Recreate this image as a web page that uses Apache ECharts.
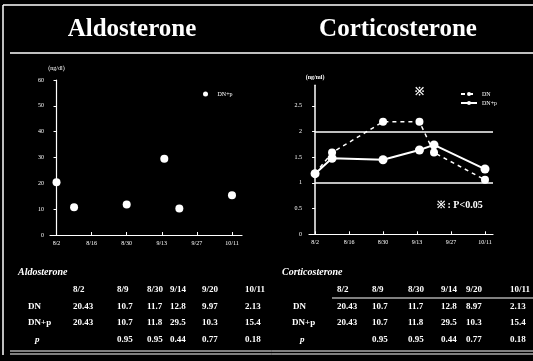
<!DOCTYPE html>
<html><head><meta charset="utf-8">
<script src="https://cdn.jsdelivr.net/npm/echarts@6/dist/echarts.min.js"></script>
<style>html,body{margin:0;padding:0;background:#000}#c{width:533px;height:361px}</style>
</head><body><div id="c"></div>
<script>
// ---- data ----
const dateTickLabels = ['8/2', '8/16', '8/30', '9/13', '9/27', '10/11'];
const dateTickDays = [0, 14, 28, 42, 56, 70];
const sampleDays = [0, 7, 28, 43, 49, 70];           // 8/2, 8/9, 8/30, 9/14, 9/20, 10/11
const aldoDNp = [20.43, 10.7, 11.8, 29.5, 10.3, 15.4];
const aldoTicks = [0, 10, 20, 30, 40, 50, 60];
const corticoDN = [1.18, 1.59, 2.19, 2.19, 1.59, 1.06];
const corticoDNp = [1.18, 1.48, 1.45, 1.64, 1.74, 1.27];
const corticoTicks = [0, 0.5, 1, 1.5, 2, 2.5];
const corticoRefLines = [1, 2];
const signifDay = 43;
const tableDates = ['8/2', '8/9', '8/30', '9/14', '9/20', '10/11'];
const aldoTableDN = ['20.43', '10.7', '11.7', '12.8', '9.97', '2.13'];
const aldoTableDNp = ['20.43', '10.7', '11.8', '29.5', '10.3', '15.4'];
const aldoTableP = ['', '0.95', '0.95', '0.44', '0.77', '0.18'];
const cortTableDN = ['20.43', '10.7', '11.7', '12.8', '8.97', '2.13'];
const cortTableDNp = ['20.43', '10.7', '11.8', '29.5', '10.3', '15.4'];
const cortTableP = ['', '0.95', '0.95', '0.44', '0.77', '0.18'];
const rowNames = ['DN', 'DN+p', 'p'];

// ---- chart ----
const W = '#ffffff';
const SERIF = '"Liberation Serif","DejaVu Serif",serif';
const chart = echarts.init(document.getElementById('c'), null, {renderer: 'canvas'});
const dayLabel = v => { const i = dateTickDays.indexOf(v); return i >= 0 ? dateTickLabels[i] : ''; };

function axisX(grid, min, max) {
  return {
    type: 'value', gridIndex: grid, min: min, max: max,
    axisLine: {show: true, lineStyle: {color: W, width: 1.2}},
    axisTick: {show: true, customValues: dateTickDays, length: 3, inside: true, lineStyle: {color: W}},
    axisLabel: {customValues: dateTickDays, formatter: dayLabel, color: W, fontSize: 6, fontFamily: SERIF, margin: 5},
    splitLine: {show: false}
  };
}

function tableTexts(x0, cols, title, dates, rows, opts) {
  const els = [];
  const y = [272, 290, 307, 323, 340];
  els.push({type: 'text', x: x0, y: y[0], style: {text: title, fill: W, font: 'italic bold 10px ' + SERIF, textVerticalAlign: 'middle'}});
  dates.forEach((d, i) => els.push({type: 'text', x: cols[i], y: y[1], style: {text: d, fill: W, font: 'bold 9px ' + SERIF, textVerticalAlign: 'middle'}}));
  rows.forEach((r, ri) => {
    els.push({type: 'text', x: opts.labelX[ri], y: y[2 + ri], style: {text: rowNames[ri], fill: W, font: (ri === 2 ? 'italic ' : '') + 'bold 9px ' + SERIF, textVerticalAlign: 'middle'}});
    r.forEach((v, i) => els.push({type: 'text', x: cols[i], y: y[2 + ri], style: {text: v, fill: W, font: 'bold 9px ' + SERIF, textVerticalAlign: 'middle'}}));
  });
  return els;
}

const graphics = [
  {type: 'line', shape: {x1: 3, y1: 5, x2: 533, y2: 5}, style: {stroke: W, lineWidth: 1.5}},
  {type: 'line', shape: {x1: 3, y1: 5, x2: 3, y2: 355}, style: {stroke: W, lineWidth: 1.5}},
  {type: 'line', shape: {x1: 10, y1: 53, x2: 533, y2: 53}, style: {stroke: W, lineWidth: 1.5}},
  {type: 'line', shape: {x1: 10, y1: 351, x2: 533, y2: 351}, style: {stroke: W, lineWidth: 1}},
  {type: 'line', shape: {x1: 10, y1: 354, x2: 533, y2: 354}, style: {stroke: W, lineWidth: 1}},
  {type: 'line', shape: {x1: 332, y1: 298, x2: 533, y2: 298}, style: {stroke: W, lineWidth: 1.2}},
  {type: 'text', x: 132, y: 30, style: {text: 'Aldosterone', fill: W, font: 'bold 25px ' + SERIF, textAlign: 'center', textVerticalAlign: 'middle'}},
  {type: 'text', x: 398, y: 30, style: {text: 'Corticosterone', fill: W, font: 'bold 25px ' + SERIF, textAlign: 'center', textVerticalAlign: 'middle'}},
  {type: 'text', x: 437, y: 205, style: {text: '※ : P<0.05', fill: W, font: 'bold 10px ' + SERIF, textVerticalAlign: 'middle'}}
].concat(
  tableTexts(18, [73, 117, 147, 170, 202, 245], 'Aldosterone', tableDates, [aldoTableDN, aldoTableDNp, aldoTableP], {labelX: [28, 28, 35]}),
  tableTexts(282, [337, 372, 408, 441, 466, 510], 'Corticosterone', tableDates, [cortTableDN, cortTableDNp, cortTableP], {labelX: [293, 292, 300]})
);

const option = {
  backgroundColor: '#000',
  animation: false,
  grid: [
    {left: 50, top: 80, width: 192, height: 155},
    {left: 309, top: 85.3, width: 184, height: 149}
  ],
  xAxis: [axisX(0, -2.6, 74), axisX(1, -2.5, 73.3)],
  yAxis: [
    {type: 'value', gridIndex: 0, min: 0, max: 60, interval: 10,
     name: '(ng/dl)', nameLocation: 'end', nameGap: 9,
     nameTextStyle: {color: W, fontSize: 6, fontFamily: SERIF, align: 'center'},
     axisLine: {show: true, lineStyle: {color: W, width: 1.2}},
     axisTick: {show: true, length: 3, lineStyle: {color: W}},
     axisLabel: {color: W, fontSize: 6, fontFamily: SERIF, margin: 6},
     splitLine: {show: false}},
    {type: 'value', gridIndex: 1, min: 0, max: 2.9,
     name: '(ng/ml)', nameLocation: 'end', nameGap: 5,
     nameTextStyle: {color: W, fontSize: 6, fontFamily: SERIF, align: 'center', fontWeight: 'bold'},
     axisLine: {show: true, lineStyle: {color: W, width: 1.5}},
     axisTick: {show: true, customValues: corticoTicks, length: 3, lineStyle: {color: W}},
     axisLabel: {customValues: corticoTicks, color: W, fontSize: 6, fontFamily: SERIF, margin: 7},
     splitLine: {show: false}}
  ],
  legend: [
    {data: ['DN+p'], left: 198, top: 86, orient: 'vertical', itemWidth: 14, itemHeight: 5, itemGap: 3,
     textStyle: {color: W, fontSize: 6, fontFamily: SERIF}, inactiveColor: '#555'},
    {data: ['DN', 'DN+p '], left: 455, top: 86, orient: 'vertical', itemWidth: 16, itemHeight: 5, itemGap: 3,
     textStyle: {color: W, fontSize: 6, fontFamily: SERIF}, inactiveColor: '#555'}
  ],
  series: [
    {name: 'DN+p', type: 'scatter', xAxisIndex: 0, yAxisIndex: 0, symbol: 'circle', symbolSize: 8,
     itemStyle: {color: W, opacity: 1}, data: sampleDays.map((d, i) => [d, aldoDNp[i]])},
    {name: 'DN', type: 'line', xAxisIndex: 1, yAxisIndex: 1, symbol: 'circle', symbolSize: 8,
     lineStyle: {color: W, width: 1.5, type: [4, 4]}, itemStyle: {color: W},
     data: sampleDays.map((d, i) => [d, corticoDN[i]]),
     markPoint: {symbol: 'rect', symbolSize: 0.1, silent: true,
       label: {show: true, formatter: '※', color: W, fontSize: 11, fontWeight: 'bold', position: 'inside'},
       data: [{coord: [signifDay, 2.77]}]}},
    {name: 'DN+p ', type: 'line', xAxisIndex: 1, yAxisIndex: 1, symbol: 'circle', symbolSize: 9,
     lineStyle: {color: W, width: 2}, itemStyle: {color: W},
     data: sampleDays.map((d, i) => [d, corticoDNp[i]]),
     markLine: {symbol: 'none', silent: true, label: {show: false},
       lineStyle: {color: W, width: 1.5, type: 'solid'},
       data: corticoRefLines.map(v => [{coord: [sampleDays[0], v]}, {coord: [73.3, v]}])}}
  ],
  graphic: graphics
};
chart.setOption(option);
</script>
</body></html>
